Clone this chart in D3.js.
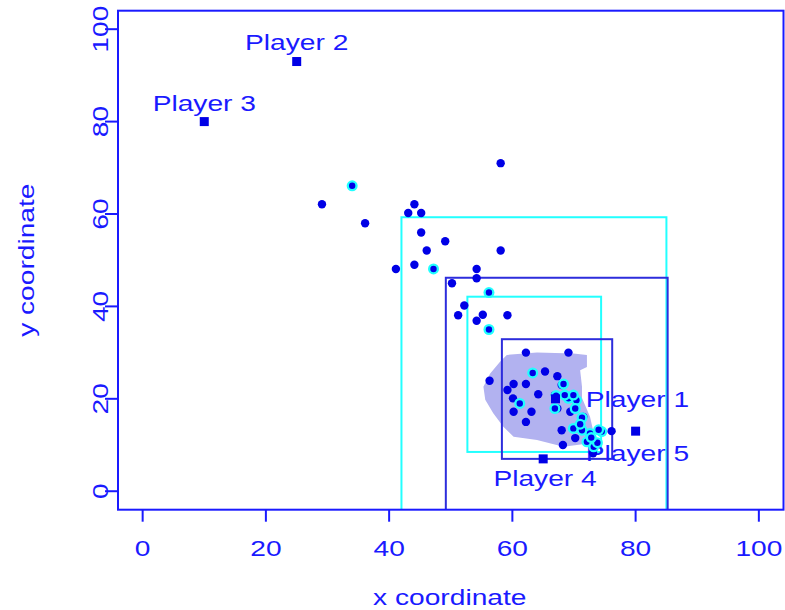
<!DOCTYPE html>
<html>
<head>
<meta charset="utf-8">
<script src="https://cdn.jsdelivr.net/npm/d3@7"></script>
<style>
  html, body { margin: 0; padding: 0; background: #fff; }
  svg { display: block; }
  text { font-family: "Liberation Sans", Arial, Helvetica, sans-serif; fill: #1a1aff; }
</style>
</head>
<body>
<svg id="chart" width="785" height="610"></svg>
<script>
// ---------------- data ----------------
const xTicks = [0, 20, 40, 60, 80, 100];
const yTicks = [0, 20, 40, 60, 80, 100];
const xTitle = "x coordinate";
const yTitle = "y coordinate";

// dark blue observations
const blueX = [58.1, 29.1, 44.1, 43.1, 45.2, 36.1, 45.2, 49.1, 46.1, 58.1, 41.1, 44.1, 54.2, 54.2, 50.2, 52.2, 51.2, 55.2, 54.2, 59.2,
               62.2, 69.1, 65.3, 67.3, 56.3, 60.2, 62.2, 59.2, 64.2, 60.1, 60.2, 63.1, 62.2, 67.3, 76.1, 68.0, 69.4, 71.5, 68.0, 70.2, 68.2, 73.1, 66.9];
const blueY = [71.0, 62.1, 62.1, 60.2, 60.2, 58.0, 56.0, 54.1, 52.1, 52.1, 48.1, 49.0, 48.1, 46.1, 45.0, 40.2, 38.1, 38.2, 36.9, 38.1,
               30.0, 30.0, 25.9, 24.9, 23.9, 23.2, 23.2, 21.9, 21.0, 20.1, 17.2, 17.2, 15.0, 17.9, 13.0, 23.0, 17.2, 16.1, 13.2, 11.5, 10.0, 8.2, 20.8];

// cyan-ringed observations
const cyanX = [34.0, 47.2, 56.2, 56.2, 63.3, 68.3, 61.2, 67.1, 69.1, 70.4, 68.5, 69.9, 66.9, 70.2, 71.3, 69.9, 71.3, 72.6, 74.5, 72.1, 73.2, 73.8, 72.8, 71.0, 74.0];
const cyanY = [66.1, 48.1, 43.0, 35.0, 25.6, 23.2, 19.0, 20.7, 20.1, 19.7, 20.8, 20.8, 17.9, 17.9, 15.9, 13.6, 13.2, 12.5, 12.9, 10.7, 9.6, 10.5, 11.6, 14.5, 13.3];

// players
const playerNames = ["Player 1", "Player 2", "Player 3", "Player 4", "Player 5"];
const playerX = [67, 25, 10, 65, 80];
const playerY = [20, 93, 80, 7, 13];
const labelX = [80.3, 25, 10, 65.3, 80.3];
const labelY = [20, 97.3, 84, 2.9, 8.3];

// rectangles (x0, x1, y0, y1) and colours
const rectX0 = [42.0, 49.2, 52.7, 58.3];
const rectX1 = [85.0, 85.2, 74.4, 76.2];
const rectY0 = [-10, -10, 8.5, 7.0];
const rectY1 = [59.3, 46.2, 42.1, 32.9];
const rectKind = ["cyan", "blue", "cyan", "blue"];

// shaded density region outline
const blobX = [59.1, 64.0, 69.9, 72.1, 72.1, 71.0, 71.3, 71.3, 72.6, 73.1, 72.6, 68.3, 64.0, 60.2, 58.5, 56.9, 55.6, 55.3, 56.4, 58.0];
const blobY = [29.5, 30.0, 29.8, 29.5, 26.9, 26.2, 22.6, 20.2, 16.1, 13.2, 10.4, 9.6, 11.1, 11.8, 14.0, 16.9, 19.8, 22.6, 25.5, 28.0];

// ---------------- drawing ----------------
const BLUE = "#1a1aff";
const DARK = "#0000e6";
const CYAN = "#22ffff";
const RBLUE = "#2d2ddc";
const BLOB = "#b2b2f0";
const FS = 22, SX = 1.28;

const svg = d3.select("#chart");
const L = 118, R = 783.5, T = 10.7, B = 509.7;
const x = d3.scaleLinear().domain([-4, 104]).range([L, R]);
const y = d3.scaleLinear().domain([-4, 104]).range([B, T]);

function label(g, tx, ty, rot, txt, dy) {
  return g.append("text")
    .attr("transform", `translate(${tx},${ty})${rot ? " rotate(" + rot + ")" : ""} scale(${SX},1)`)
    .attr("text-anchor", "middle")
    .attr("dy", dy || 0)
    .attr("font-size", FS)
    .text(txt);
}

svg.append("defs").append("clipPath").attr("id", "clip")
  .append("rect").attr("x", L).attr("y", T).attr("width", R - L).attr("height", B - T);

const plot = svg.append("g").attr("clip-path", "url(#clip)");

// blob
plot.append("path")
  .datum(blobX.map((d, i) => [d, blobY[i]]))
  .attr("d", d3.line().x(d => x(d[0])).y(d => y(d[1])).curve(d3.curveLinearClosed))
  .attr("fill", BLOB).attr("stroke", "none");

// rectangles
rectX0.forEach((d, i) => {
  plot.append("rect")
    .attr("x", x(d)).attr("y", y(rectY1[i]))
    .attr("width", x(rectX1[i]) - x(d)).attr("height", y(rectY0[i]) - y(rectY1[i]))
    .attr("fill", "none")
    .attr("stroke", rectKind[i] === "cyan" ? CYAN : RBLUE)
    .attr("stroke-width", 2);
});

// labels
playerNames.forEach((n, i) => {
  label(plot, x(labelX[i]), y(labelY[i]), 0, n, "0.36em");
});

// blue points
plot.selectAll("circle.b").data(blueX.map((d, i) => [d, blueY[i]])).enter()
  .append("circle").attr("class", "b")
  .attr("cx", d => x(d[0])).attr("cy", d => y(d[1])).attr("r", 4.2)
  .attr("fill", DARK);

// cyan points
const cg = plot.selectAll("g.c").data(cyanX.map((d, i) => [d, cyanY[i]])).enter().append("g").attr("class", "c");
cg.append("circle").attr("cx", d => x(d[0])).attr("cy", d => y(d[1])).attr("r", 5.5).attr("fill", CYAN);
cg.append("circle").attr("cx", d => x(d[0])).attr("cy", d => y(d[1])).attr("r", 3.2).attr("fill", DARK);

// player squares
plot.selectAll("rect.p").data(playerX.map((d, i) => [d, playerY[i]])).enter()
  .append("rect").attr("class", "p")
  .attr("x", d => x(d[0]) - 4.5).attr("y", d => y(d[1]) - 4.5)
  .attr("width", 9).attr("height", 9).attr("fill", DARK);

// box
svg.append("rect").attr("x", L).attr("y", T).attr("width", R - L).attr("height", B - T)
  .attr("fill", "none").attr("stroke", BLUE).attr("stroke-width", 2);

// x axis
const xa = svg.append("g");
xa.selectAll("line").data(xTicks).enter().append("line")
  .attr("x1", d => x(d)).attr("x2", d => x(d)).attr("y1", B).attr("y2", B + 12)
  .attr("stroke", BLUE).attr("stroke-width", 2);
xTicks.forEach(d => label(xa, x(d), 556, 0, d));
label(svg, (L + R) / 2 - 1, 605, 0, xTitle);

// y axis
const ya = svg.append("g");
ya.selectAll("line").data(yTicks).enter().append("line")
  .attr("x1", L - 13).attr("x2", L).attr("y1", d => y(d)).attr("y2", d => y(d))
  .attr("stroke", BLUE).attr("stroke-width", 2);
yTicks.forEach(d => label(ya, 108, y(d), -90, d));
label(svg, 34, (T + B) / 2, -90, yTitle);
</script>
</body>
</html>
